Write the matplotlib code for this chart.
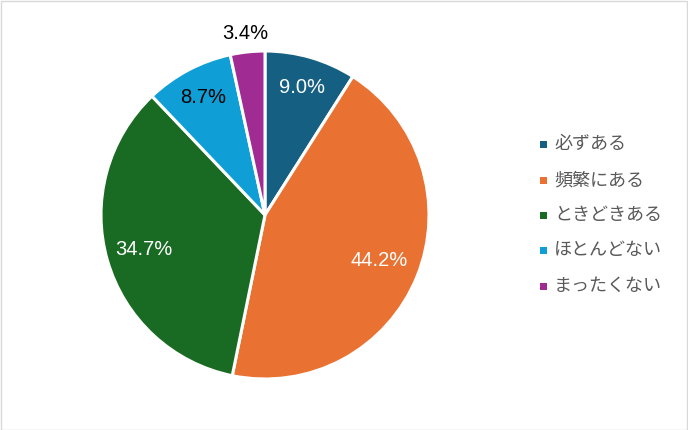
import matplotlib
matplotlib.use("Agg")
import matplotlib.pyplot as plt
import numpy as np
from matplotlib.patches import Rectangle

categories = ["必ずある", "頻繁にある", "ときどきある", "ほとんどない", "まったくない"]
values = [9.0, 44.2, 34.7, 8.7, 3.4]
pct_labels = ["9.0%", "44.2%", "34.7%", "8.7%", "3.4%"]
colors = ["#156082", "#E97132", "#196B24", "#0F9ED5", "#A02B93"]
label_colors = ["white", "white", "white", "black", "black"]
label_radius = [0.81, 0.75, 0.77, 0.81, 1.11]

W, H = 688, 430
fig = plt.figure(figsize=(W / 100, H / 100), dpi=100)
fig.patch.set_facecolor("white")

cx, cy, r = 265, 215, 164
ax = fig.add_axes([(cx - r) / W, (H - cy - r) / H, 2 * r / W, 2 * r / H])
wedges, _ = ax.pie(values, colors=colors, startangle=90, counterclock=False,
                   radius=1, wedgeprops=dict(edgecolor="white", linewidth=2.2))
ax.set_xlim(-1, 1)
ax.set_ylim(-1, 1)
ax.set_aspect("equal")
ax.axis("off")

for w, lab, col, rd in zip(wedges, pct_labels, label_colors, label_radius):
    ang = np.deg2rad((w.theta1 + w.theta2) / 2)
    ax.text(rd * np.cos(ang), rd * np.sin(ang), lab, ha="center", va="center",
            fontsize=14.5, color=col, family=["Liberation Sans", "DejaVu Sans"],
            clip_on=False)

# legend
rows_y = [144, 180, 215, 250, 286]
for y, cat, col in zip(rows_y, categories, colors):
    fig.add_artist(Rectangle(((543 - 3.5) / W, (H - y - 3.5) / H), 7 / W, 7 / H,
                             transform=fig.transFigure, facecolor=col, edgecolor="none"))
    fig.text(554 / W, (H - y) / H, cat, ha="left", va="center", fontsize=13,
             color="#595959", family=["Noto Sans CJK JP", "DejaVu Sans"])

# border
fig.add_artist(Rectangle((0.5 / W, 0.5 / H), (W - 1.5) / W, (H - 1.5) / H,
                         transform=fig.transFigure, facecolor="none",
                         edgecolor="#D9D9D9", linewidth=1))

fig.savefig("out.png", dpi=100)
